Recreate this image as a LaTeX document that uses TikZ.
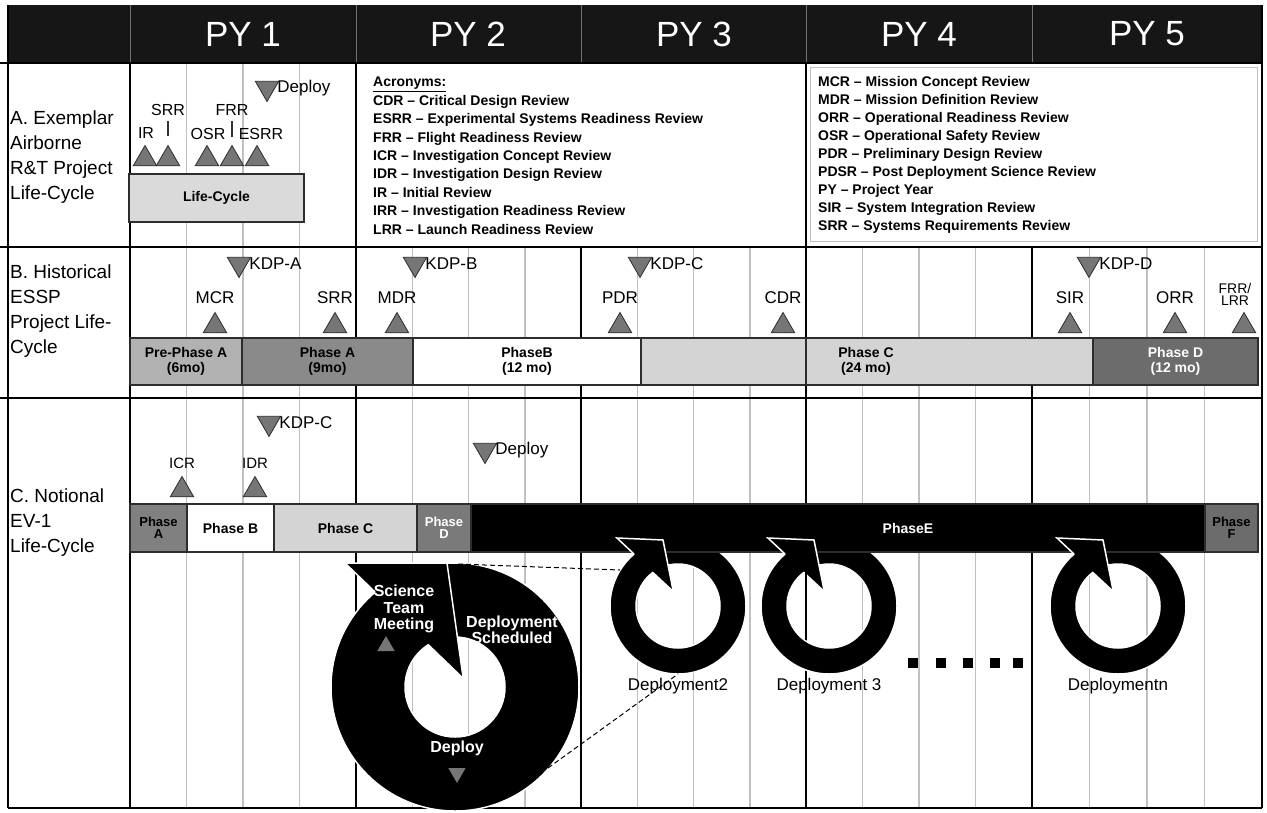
\documentclass[tikz,border=0pt]{standalone}
\usepackage{fontspec}
\setmainfont{Liberation Sans}
\usetikzlibrary{shapes.geometric, positioning}

\definecolor{gridgray}{RGB}{192,192,192}
\definecolor{markgray}{RGB}{118,118,118}
\definecolor{prephase}{RGB}{178,178,178}
\definecolor{phasea}{RGB}{138,138,138}
\definecolor{phasec}{RGB}{212,212,212}
\definecolor{phased}{RGB}{108,108,108}
\definecolor{lifebox}{RGB}{218,218,218}
\definecolor{edgegray}{RGB}{45,45,45}
\definecolor{headblack}{RGB}{22,22,22}

\tikzset{
  upmark/.style={regular polygon, regular polygon sides=3, draw=edgegray,
    fill=markgray, minimum size=27pt, inner sep=0pt, line width=0.8pt},
  downmark/.style={upmark, regular polygon rotate=180},
  ringmark/.style={upmark, draw=none, minimum size=20pt},
  mslabel/.style={inner sep=1pt, font=\fontsize{17}{17}\selectfont},
  seclabel/.style={align=left, inner sep=0pt, font=\fontsize{19}{25}\selectfont},
  phasebox/.style={rectangle, draw=edgegray, line width=1.2pt, outer sep=0pt,
    inner sep=0pt, minimum height=47pt, align=center,
    font=\fontsize{14}{15}\selectfont\bfseries},
  smallphase/.style={phasebox, font=\fontsize{13}{12}\selectfont\bfseries},
  phasetxt/.style={align=center, inner sep=0pt,
    font=\fontsize{14}{15}\selectfont\bfseries},
  acrtext/.style={align=left, inner sep=0pt,
    font=\fontsize{14}{18.4}\selectfont\bfseries},
  ringtext/.style={text=white, align=center, inner sep=0pt,
    font=\fontsize{16}{16.5}\selectfont\bfseries},
  deplabel/.style={inner sep=0pt, font=\fontsize{17}{17}\selectfont},
  yearhead/.style={text=white, inner sep=0pt, font=\fontsize{35}{35}\selectfont},
  gridline/.style={draw=gridgray, line width=1.5pt},
  yearline/.style={draw=black, line width=1.5pt},
  zoomline/.style={draw=black, line width=1pt, dash pattern=on 5pt off 3pt},
  ringbody/.style={fill=black, draw=white, line width=1.5pt, even odd rule},
}

\begin{document}
\begin{tikzpicture}[x=1pt, y=-1pt]
  \useasboundingbox (0,0) rectangle (1267,812);
  \fill[white] (0,0) rectangle (1267,812);

  % Grid: quarters, then project years
  \foreach \ya/\yb in {130/356,356/581,581/806,806/1032,1032/1262}
    \foreach \k in {1,2,3}
      \draw[gridline] ({\ya+\k*(\yb-\ya)/4},63) -- ({\ya+\k*(\yb-\ya)/4},808);
  \foreach \x in {130,356,581,806,1032}
    \draw[yearline] (\x,63) -- (\x,808);

  % Acronym panels hide the grid
  \fill[white] (357.5,64) rectangle (804.5,246);
  \fill[white] (807.5,64) rectangle (1261,246);
  \draw[gridgray, line width=0.8pt] (810,67) rectangle (1257,241);

  % Header
  \fill[headblack] (8,5) rectangle (1262,63);
  \foreach \x in {130,356,581,806,1032}
    \draw[black!55, line width=1pt] (\x,5) -- (\x,63);
  \foreach \x/\t [count=\i] in {243/PY 1,468/PY 2,694/PY 3,919/PY 4,1147/PY 5}
    \node[yearhead] (py\i) at (\x,34) {\t};

  % Frame
  \foreach \y in {63,247,398}
    \draw[black, line width=1.8pt] (0,\y) -- (1262,\y);
  \draw[black, line width=1.8pt] (8,808) -- (1262,808);
  \draw[black, line width=1.5pt] (1262,5) -- (1262,808);
  \draw[black, line width=2.5pt] (8,5) -- (8,808);

  % A. Exemplar airborne project
  \node[seclabel, anchor=west] (seca) at (10,157)
    {A. Exemplar\\Airborne\\R\&T Project\\Life-Cycle};
  \node[phasebox, fill=lifebox, minimum width=175pt, minimum height=48pt,
    anchor=west] (lifecyc) at (129,198) {Life-Cycle};
  \foreach \x/\nm in {145/ira,168/srra,207/osra,232/frra,257/esrra}
    \node[upmark] (\nm) at (\x,159) {};
  \node[mslabel, font=\fontsize{16}{16}\selectfont] (ira-lbl) at (146,133) {IR};
  \node[mslabel, font=\fontsize{16}{16}\selectfont] (srra-lbl) at (168,110) {SRR};
  \node[mslabel, font=\fontsize{16}{16}\selectfont] (osra-lbl) at (208,134) {OSR};
  \node[mslabel, font=\fontsize{16}{16}\selectfont] (frra-lbl) at (232,110) {FRR};
  \node[mslabel, font=\fontsize{16}{16}\selectfont] (esrra-lbl) at (261,134) {ESRR};
  \draw[black!80, line width=1.2pt] ([yshift=-4pt]srra-lbl.south) -- ++(0,15);
  \draw[black!80, line width=1.2pt] ([yshift=-4pt]frra-lbl.south) -- ++(0,16);
  \node[downmark] (deploya) at (267,88) {};
  \node[mslabel, right=1pt of deploya] (deploya-lbl) {Deploy};

  % Acronyms
  \node[acrtext, anchor=north west] (acrleft) at (373,77)
    {\underline{Acronyms:}\\CDR -- Critical Design Review\\
     ESRR -- Experimental Systems Readiness Review\\
     FRR -- Flight Readiness Review\\ICR -- Investigation Concept Review\\
     IDR -- Investigation Design Review\\IR -- Initial Review\\
     IRR -- Investigation Readiness Review\\LRR -- Launch Readiness Review};
  \node[acrtext, anchor=north west, font=\fontsize{14}{18}\selectfont\bfseries]
    (acrright) at (818,76)
    {MCR -- Mission Concept Review\\MDR -- Mission Definition Review\\
     ORR -- Operational Readiness Review\\OSR -- Operational Safety Review\\
     PDR -- Preliminary Design Review\\PDSR -- Post Deployment Science Review\\
     PY -- Project Year\\SIR -- System Integration Review\\
     SRR -- Systems Requirements Review};

  % B. Historical ESSP project
  \node[seclabel, anchor=west] (secb) at (10,311)
    {B. Historical\\ESSP\\Project Life-\\Cycle};
  \foreach \x/\nm/\t in {239/kdpa/KDP-A,415/kdpb/KDP-B,640/kdpc/KDP-C,1089/kdpd/KDP-D} {
    \node[downmark] (\nm) at (\x,264) {};
    \node[mslabel, right=1pt of \nm] (\nm-lbl) {\t};
  }
  \foreach \x/\nm/\t in {215/mcr/MCR,335/srrb/SRR,397/mdr/MDR,620/pdr/PDR,
                          783/cdr/CDR,1070/sir/SIR,1175/orr/ORR} {
    \node[upmark] (\nm) at (\x,326) {};
    \node[mslabel, above=7pt of \nm] (\nm-lbl) {\t};
  }
  \node[upmark] (frrlrr) at (1244,326) {};
  \node[mslabel, font=\fontsize{14}{12}\selectfont, align=center,
    above=5pt of frrlrr, xshift=-9pt] (frrlrr-lbl) {FRR/\\LRR};

  \node[phasebox, fill=prephase, minimum width=112pt, anchor=west] (prea)
    at (130,361.5) {Pre-Phase A\\(6mo)};
  \node[phasebox, fill=phasea, minimum width=171pt, right=0pt of prea] (pha)
    {Phase A\\(9mo)};
  \node[phasebox, fill=white, minimum width=228pt, right=0pt of pha] (phb)
    {PhaseB\\(12 mo)};
  \node[phasebox, fill=phasec, minimum width=165pt, right=0pt of phb] (phcone) {};
  \node[phasebox, fill=phasec, minimum width=287pt, right=0pt of phcone] (phctwo) {};
  \node[phasebox, fill=phased, text=white, minimum width=165pt,
    right=0pt of phctwo] (phd) {Phase D\\(12 mo)};
  \node[phasetxt] (phc-lbl) at (866,361.5) {Phase C\\(24 mo)};

  % C. Notional EV-1
  \node[seclabel, anchor=west] (secc) at (10,523)
    {C. Notional\\EV-1\\Life-Cycle};
  \node[downmark] (kdpcc) at (269,423) {};
  \node[mslabel, right=1pt of kdpcc] (kdpcc-lbl) {KDP-C};
  \node[downmark] (deployc) at (485,450) {};
  \node[mslabel, right=1pt of deployc] (deployc-lbl) {Deploy};
  \node[upmark] (icr) at (182,490) {};
  \node[mslabel, font=\fontsize{15}{15}\selectfont, above=6pt of icr] (icr-lbl) {ICR};
  \node[upmark] (idr) at (255,490) {};
  \node[mslabel, font=\fontsize{15}{15}\selectfont, above=6pt of idr] (idr-lbl) {IDR};

  % Deployment rings, tucked under phase E
  \foreach \cx/\nm/\t in {678/dtwo/Deployment2,829/dthree/Deployment 3,1118/dn/Deploymentn} {
    \path[ringbody] (\cx,606) circle[radius=68pt] (\cx,606) circle[radius=42pt];
    \node[deplabel] (\nm) at (\cx,686) {\t};
  }

  \node[smallphase, fill=black!50, minimum width=57pt, minimum height=48pt,
    anchor=west] (cpha) at (130,528) {Phase\\A};
  \node[phasebox, fill=white, minimum width=87pt, minimum height=48pt,
    right=0pt of cpha] (cphb) {Phase B};
  \node[phasebox, fill=phasec, minimum width=143pt, minimum height=48pt,
    right=0pt of cphb] (cphc) {Phase C};
  \node[smallphase, fill=black!52, text=white, minimum width=54pt,
    minimum height=48pt, right=0pt of cphc] (cphd) {Phase\\D};
  \node[phasebox, fill=black, minimum width=734pt, minimum height=48pt,
    right=0pt of cphd] (cphe) {};
  \node[smallphase, fill=phased, minimum width=53pt, minimum height=48pt,
    right=0pt of cphe] (cphf) {Phase\\F};
  \node[phasetxt, text=white] (cphe-lbl) at (908,528) {PhaseE};

  % Ring arrow heads
  \foreach \cx in {678,829,1118} {
    \fill[black] (\cx-61,538) -- (\cx-15,540) -- (\cx-5,590) -- cycle;
    \draw[white, line width=1.5pt] (\cx-44,554) -- (\cx-61,538) -- (\cx-15,540) -- (\cx-5,590);
  }

  % Magnified deployment cycle
  \path[ringbody] (455,687) circle[radius=124pt] (455,687) circle[radius=50pt];
  \fill[black] (345,563) -- (447,563) -- (463,677) -- cycle;
  \draw[white, line width=1.5pt] (375,592) -- (345,563) -- (447,563) -- (463,677);
  \node[ringtext] (stm) at (404,609) {Science\\Team\\Meeting};
  \node[ringmark] (stm-mark) at (386,646) {};
  \node[ringtext] (sched) at (512,630) {Deployment\\Scheduled};
  \node[ringtext] (deployr) at (457,748) {Deploy};
  \node[ringmark, regular polygon rotate=180] (deployr-mark) at (457,773) {};

  % More deployments
  \foreach \x [count=\i] in {913,941,968,995,1018}
    \node[fill=black, minimum size=10pt, inner sep=0pt] (dot\i) at (\x,663) {};

  % Zoom lines
  \coordinate (bigtop) at (458,564);
  \coordinate (bigedge) at (548,768);
  \coordinate (dtwow) at (620,570);
  \coordinate (dtwos) at (678,674);
  \draw[zoomline] (bigtop) -- (dtwow);
  \draw[zoomline] (bigedge) -- (dtwos);
\end{tikzpicture}
\end{document}
